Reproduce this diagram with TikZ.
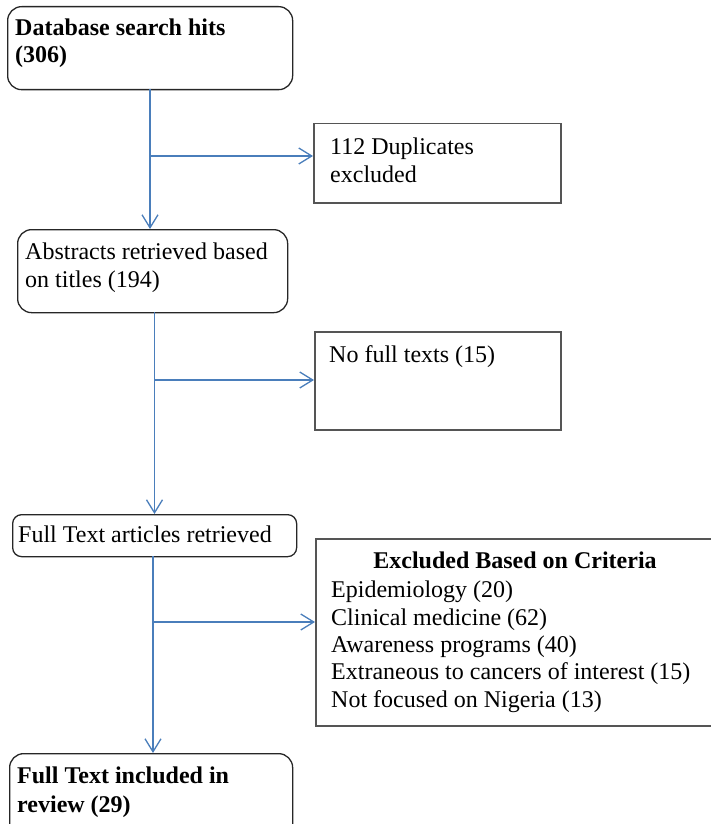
\documentclass[tikz,border=0pt]{standalone}
\usepackage{fontspec}
\setmainfont{Liberation Serif}
\usetikzlibrary{arrows.meta}
\definecolor{arrowblue}{HTML}{4A7EBB}
\definecolor{boxgray}{HTML}{555555}
\begin{document}
\begin{tikzpicture}[x=1pt,y=-1pt,
  rbox/.style={draw=black!85, line width=1.3pt, rounded corners=14pt, inner sep=0pt, anchor=north west},
  sbox/.style={draw=boxgray, line width=1.5pt, inner sep=0pt, anchor=north west},
  txt/.style={anchor=base west, inner sep=0pt, font=\fontsize{24}{27.6}\selectfont},
  btxt/.style={txt, font=\fontsize{24}{27.6}\selectfont\bfseries},
  arr/.style={draw=arrowblue, line width=1.5pt, -{Straight Barb[length=13pt,width=16pt,line width=1.3pt]}}]
\useasboundingbox (0,0) rectangle (711,824);
% boxes
\node[rbox, minimum width=285pt, minimum height=83pt] (b1) at (7,6) {};
\node[sbox, minimum width=247pt, minimum height=79pt] (b2) at (313,123) {};
\node[rbox, minimum width=270pt, minimum height=83pt] (b3) at (17,229) {};
\node[sbox, minimum width=246pt, minimum height=98pt] (b4) at (314,331) {};
\node[rbox, minimum width=284pt, minimum height=42pt, rounded corners=9pt] (b5) at (12,514) {};
\node[sbox, minimum width=400pt, minimum height=187pt] (b6) at (315,538) {};
\node[rbox, minimum width=283pt, minimum height=90pt] (b7) at (9,753) {};
% texts
\node[btxt] (t1a) at (15,36) {Database search hits};
\node[btxt] (t1b) at (15,63) {(306)};
\node[txt] (t2a) at (330,154) {112 Duplicates};
\node[txt] (t2b) at (330,182) {excluded};
\node[txt] (t3a) at (25,259) {Abstracts retrieved based};
\node[txt] (t3b) at (25,287) {on titles (194)};
\node[txt] (t4) at (329,362) {No full texts (15)};
\node[txt] (t5) at (18,542) {Full Text articles retrieved};
\node[btxt, anchor=base] (t6h) at (515,568) {Excluded Based on Criteria};
\node[txt] (t6a) at (331,597) {Epidemiology (20)};
\node[txt] (t6b) at (331,625) {Clinical medicine (62)};
\node[txt] (t6c) at (331,652) {Awareness programs (40)};
\node[txt] (t6d) at (331,679) {Extraneous to cancers of interest (15)};
\node[txt] (t6e) at (331,707) {Not focused on Nigeria (13)};
\node[btxt] (t7a) at (17,783) {Full Text included in};
\node[btxt] (t7b) at (17,812) {review (29)};
% connectors
\coordinate (s1) at (150,89);
\coordinate (j1) at (150,156);
\draw[arr] (s1) -- (s1 |- b3.north);
\draw[arr] (j1) -- (j1 -| b2.west);
\coordinate (s2) at (154.5,312);
\coordinate (j2) at (154.5,380);
\draw[arr] (s2) -- (s2 |- b5.north);
\draw[arr] (j2) -- (j2 -| b4.west);
\coordinate (s3) at (153,556);
\coordinate (j3) at (153,622);
\draw[arr] (s3) -- (s3 |- b7.north);
\draw[arr] (j3) -- (j3 -| b6.west);
\end{tikzpicture}
\end{document}
